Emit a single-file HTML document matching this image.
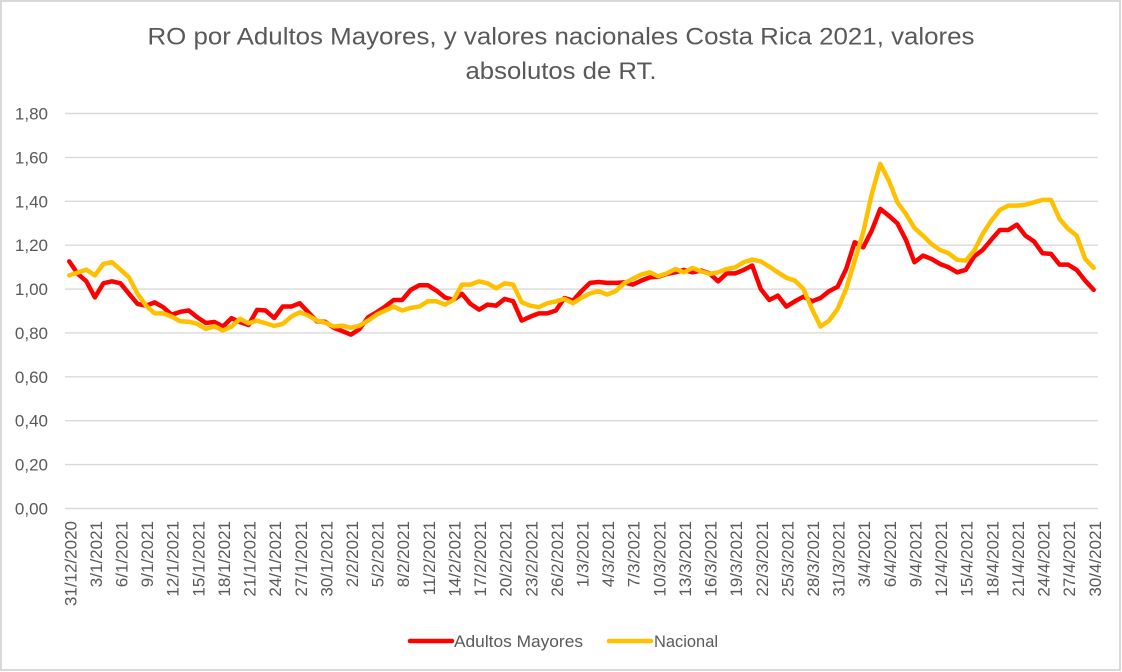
<!DOCTYPE html>
<html>
<head>
<meta charset="utf-8">
<style>
html,body{margin:0;padding:0;background:#fff;}
svg{display:block;}
text{font-family:"Liberation Sans",Arial,sans-serif;fill:#595959;}
</style>
</head>
<body>
<svg width="1122" height="672" viewBox="0 0 1122 672" xmlns="http://www.w3.org/2000/svg">
<rect x="0" y="0" width="1122" height="672" fill="#fff"/>
<rect x="1" y="1" width="1119" height="669" fill="none" stroke="#d9d9d9" stroke-width="2"/>

<!-- title -->
<text x="561" y="44.5" font-size="24.5" text-anchor="middle" textLength="827" lengthAdjust="spacingAndGlyphs">RO por Adultos Mayores, y valores nacionales Costa Rica 2021, valores</text>
<text x="561" y="79" font-size="24.5" text-anchor="middle" textLength="191" lengthAdjust="spacingAndGlyphs">absolutos de RT.</text>

<!-- gridlines -->
<g stroke="#d9d9d9" stroke-width="1.4">
<line x1="65" y1="113.5" x2="1098" y2="113.5"/>
<line x1="65" y1="157.4" x2="1098" y2="157.4"/>
<line x1="65" y1="201.3" x2="1098" y2="201.3"/>
<line x1="65" y1="245.2" x2="1098" y2="245.2"/>
<line x1="65" y1="289.1" x2="1098" y2="289.1"/>
<line x1="65" y1="332.9" x2="1098" y2="332.9"/>
<line x1="65" y1="376.8" x2="1098" y2="376.8"/>
<line x1="65" y1="420.7" x2="1098" y2="420.7"/>
<line x1="65" y1="464.6" x2="1098" y2="464.6"/>
<line x1="65" y1="508.5" x2="1098" y2="508.5"/>
</g>

<!-- y labels -->
<g font-size="17" text-anchor="end">
<text x="48" y="119.5">1,80</text>
<text x="48" y="163.4">1,60</text>
<text x="48" y="207.3">1,40</text>
<text x="48" y="251.2">1,20</text>
<text x="48" y="295.1">1,00</text>
<text x="48" y="338.9">0,80</text>
<text x="48" y="382.8">0,60</text>
<text x="48" y="426.7">0,40</text>
<text x="48" y="470.6">0,20</text>
<text x="48" y="514.5">0,00</text>
</g>

<!-- x labels -->
<g font-size="17" text-anchor="end">
<text transform="translate(76.3,521) rotate(-90)">31/12/2020</text>
<text transform="translate(101.9,521) rotate(-90)">3/1/2021</text>
<text transform="translate(127.5,521) rotate(-90)">6/1/2021</text>
<text transform="translate(153.1,521) rotate(-90)">9/1/2021</text>
<text transform="translate(178.7,521) rotate(-90)">12/1/2021</text>
<text transform="translate(204.3,521) rotate(-90)">15/1/2021</text>
<text transform="translate(229.9,521) rotate(-90)">18/1/2021</text>
<text transform="translate(255.5,521) rotate(-90)">21/1/2021</text>
<text transform="translate(281.2,521) rotate(-90)">24/1/2021</text>
<text transform="translate(306.8,521) rotate(-90)">27/1/2021</text>
<text transform="translate(332.4,521) rotate(-90)">30/1/2021</text>
<text transform="translate(358.0,521) rotate(-90)">2/2/2021</text>
<text transform="translate(383.6,521) rotate(-90)">5/2/2021</text>
<text transform="translate(409.2,521) rotate(-90)">8/2/2021</text>
<text transform="translate(434.8,521) rotate(-90)">11/2/2021</text>
<text transform="translate(460.4,521) rotate(-90)">14/2/2021</text>
<text transform="translate(486.1,521) rotate(-90)">17/2/2021</text>
<text transform="translate(511.7,521) rotate(-90)">20/2/2021</text>
<text transform="translate(537.3,521) rotate(-90)">23/2/2021</text>
<text transform="translate(562.9,521) rotate(-90)">26/2/2021</text>
<text transform="translate(588.5,521) rotate(-90)">1/3/2021</text>
<text transform="translate(614.1,521) rotate(-90)">4/3/2021</text>
<text transform="translate(639.7,521) rotate(-90)">7/3/2021</text>
<text transform="translate(665.3,521) rotate(-90)">10/3/2021</text>
<text transform="translate(691.0,521) rotate(-90)">13/3/2021</text>
<text transform="translate(716.6,521) rotate(-90)">16/3/2021</text>
<text transform="translate(742.2,521) rotate(-90)">19/3/2021</text>
<text transform="translate(767.8,521) rotate(-90)">22/3/2021</text>
<text transform="translate(793.4,521) rotate(-90)">25/3/2021</text>
<text transform="translate(819.0,521) rotate(-90)">28/3/2021</text>
<text transform="translate(844.6,521) rotate(-90)">31/3/2021</text>
<text transform="translate(870.2,521) rotate(-90)">3/4/2021</text>
<text transform="translate(895.9,521) rotate(-90)">6/4/2021</text>
<text transform="translate(921.5,521) rotate(-90)">9/4/2021</text>
<text transform="translate(947.1,521) rotate(-90)">12/4/2021</text>
<text transform="translate(972.7,521) rotate(-90)">15/4/2021</text>
<text transform="translate(998.3,521) rotate(-90)">18/4/2021</text>
<text transform="translate(1023.9,521) rotate(-90)">21/4/2021</text>
<text transform="translate(1049.5,521) rotate(-90)">24/4/2021</text>
<text transform="translate(1075.1,521) rotate(-90)">27/4/2021</text>
<text transform="translate(1100.8,521) rotate(-90)">30/4/2021</text>
</g>

<!-- series -->
<g transform="translate(69.27,508.5) scale(8.537,-219.5)">
<polyline fill="none" stroke="#FF0000" stroke-width="4.5" stroke-linejoin="round" stroke-linecap="round" vector-effect="non-scaling-stroke"
points="0,1.126 1,1.069 2,1.035 3,0.962 4,1.026 5,1.035 6,1.026 7,0.978 8,0.932 9,0.924 10,0.939 11,0.917 12,0.883 13,0.896 14,0.902 15,0.871 16,0.845 17,0.850 18,0.829 19,0.867 20,0.849 21,0.836 22,0.905 23,0.902 24,0.868 25,0.920 26,0.920 27,0.935 28,0.894 29,0.853 30,0.850 31,0.823 32,0.808 33,0.792 34,0.818 35,0.871 36,0.894 37,0.920 38,0.950 39,0.950 40,0.996 41,1.017 42,1.017 43,0.993 44,0.962 45,0.950 46,0.978 47,0.932 48,0.906 49,0.929 50,0.924 51,0.955 52,0.944 53,0.856 54,0.874 55,0.889 56,0.889 57,0.902 58,0.959 59,0.947 60,0.990 61,1.028 62,1.032 63,1.028 64,1.028 65,1.030 66,1.020 67,1.038 68,1.053 69,1.056 70,1.069 71,1.076 72,1.087 73,1.076 74,1.084 75,1.071 76,1.035 77,1.071 78,1.071 79,1.087 80,1.107 81,1.000 82,0.950 83,0.970 84,0.920 85,0.944 86,0.965 87,0.944 88,0.959 89,0.990 90,1.010 91,1.091 92,1.213 93,1.190 94,1.266 95,1.365 96,1.334 97,1.299 98,1.224 99,1.122 100,1.152 101,1.137 102,1.114 103,1.099 104,1.076 105,1.087 106,1.148 107,1.178 108,1.224 109,1.269 110,1.269 111,1.293 112,1.243 113,1.217 114,1.163 115,1.160 116,1.111 117,1.111 118,1.087 119,1.038 120,0.996"/>
<polyline fill="none" stroke="#FFC000" stroke-width="4.5" stroke-linejoin="round" stroke-linecap="round" vector-effect="non-scaling-stroke"
points="0,1.062 1,1.075 2,1.088 3,1.062 4,1.114 5,1.122 6,1.088 7,1.053 8,0.978 9,0.924 10,0.889 11,0.889 12,0.874 13,0.853 14,0.851 15,0.841 16,0.818 17,0.830 18,0.811 19,0.829 20,0.864 21,0.844 22,0.856 23,0.844 24,0.832 25,0.841 26,0.874 27,0.894 28,0.879 29,0.856 30,0.846 31,0.829 32,0.833 33,0.823 34,0.833 35,0.856 36,0.883 37,0.902 38,0.920 39,0.902 40,0.914 41,0.920 42,0.944 43,0.944 44,0.929 45,0.950 46,1.020 47,1.020 48,1.035 49,1.026 50,1.003 51,1.026 52,1.020 53,0.939 54,0.924 55,0.917 56,0.935 57,0.944 58,0.955 59,0.935 60,0.960 61,0.980 62,0.990 63,0.975 64,0.990 65,1.026 66,1.046 67,1.066 68,1.076 69,1.058 70,1.071 71,1.091 72,1.076 73,1.096 74,1.081 75,1.069 76,1.076 77,1.091 78,1.099 79,1.122 80,1.134 81,1.126 82,1.102 83,1.076 84,1.051 85,1.038 86,1.000 87,0.909 88,0.829 89,0.856 90,0.909 91,1.000 92,1.129 93,1.258 94,1.433 95,1.570 96,1.494 97,1.395 98,1.342 99,1.278 100,1.243 101,1.205 102,1.178 103,1.163 104,1.133 105,1.129 106,1.175 107,1.251 108,1.311 109,1.360 110,1.380 111,1.380 112,1.384 113,1.395 114,1.406 115,1.406 116,1.319 117,1.274 118,1.243 119,1.137 120,1.096"/>
</g>

<!-- legend -->
<line x1="410" y1="641" x2="452" y2="641" stroke="#FF0000" stroke-width="4.5" stroke-linecap="round"/>
<text x="454" y="647" font-size="17" textLength="129" lengthAdjust="spacingAndGlyphs">Adultos Mayores</text>
<line x1="609" y1="641" x2="651" y2="641" stroke="#FFC000" stroke-width="4.5" stroke-linecap="round"/>
<text x="654" y="647" font-size="17" textLength="64" lengthAdjust="spacingAndGlyphs">Nacional</text>
</svg>
</body>
</html>
